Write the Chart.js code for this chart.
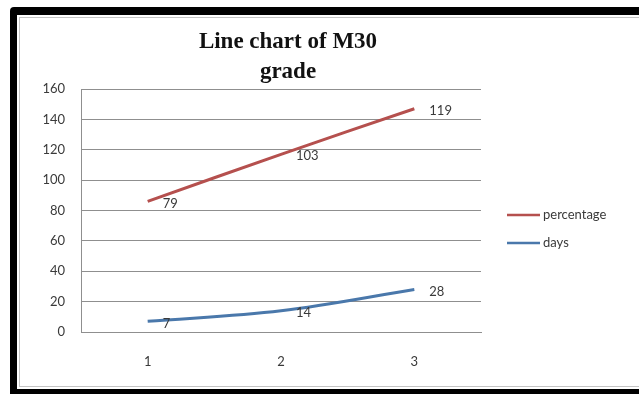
<!DOCTYPE html>
<html>
<head>
<meta charset="utf-8">
<script src="https://cdn.jsdelivr.net/npm/chart.js@4/dist/chart.umd.min.js"></script>
<style>
  html, body { margin: 0; padding: 0; background: #ffffff; overflow: hidden; }
  body { width: 639px; height: 394px; position: relative; }
  .frame { position: absolute; left: 10px; top: 7px; right: -30px; bottom: -20px; background: #000; border-radius: 4px; }
  .sheet { position: absolute; left: 17px; top: 15px; right: -30px; bottom: 5px; background: #fff; }
  .edge { position: absolute; left: 19px; top: 17px; right: -30px; bottom: 7px; border: 1px solid #c4c4c4; }
  canvas { position: absolute; left: 0; top: 0; }
</style>
</head>
<body>
<div class="frame"></div>
<div class="sheet"></div>
<div class="edge"></div>
<canvas id="chart" width="639" height="394"></canvas>
<script>
// Categories on the x axis
const categories = ['1', '2', '3'];
// Series values (stacked: percentage sits on top of days)
const daysValues = [7, 14, 28];
const percentageValues = [79, 103, 119];
// Value axis range
const yMin = 0;
const yMax = 160;
const yStep = 20;
// Chart title lines
const titleLines = ['Line chart of M30', 'grade'];
const seriesNames = ['days', 'percentage'];

const RED = '#b5504e';
const BLUE = '#4a78ab';
const TEXT = '#3a3a3a';
const GRID = '#8f8f8f';
const SANS = 'Lato, "Noto Sans", sans-serif';

// Value labels placed to the right of each point
const valueLabels = {
  id: 'valueLabels',
  afterDatasetsDraw(chart) {
    const ctx = chart.ctx;
    ctx.save();
    ctx.font = '13px ' + SANS;
    ctx.fillStyle = TEXT;
    ctx.textAlign = 'left';
    ctx.textBaseline = 'middle';
    chart.data.datasets.forEach((ds, i) => {
      chart.getDatasetMeta(i).data.forEach((pt, j) => {
        ctx.fillText(String(ds.data[j]), pt.x + 15, pt.y + 2);
      });
    });
    ctx.restore();
  }
};

// Title above the plot and legend to the right of it
const titleAndLegend = {
  id: 'titleAndLegend',
  afterDraw(chart) {
    const ctx = chart.ctx;
    ctx.save();
    ctx.fillStyle = '#111';
    ctx.font = 'bold 23px "Liberation Serif", "DejaVu Serif", serif';
    ctx.textAlign = 'center';
    ctx.textBaseline = 'alphabetic';
    ctx.fillText(titleLines[0], 288, 48);
    ctx.fillText(titleLines[1], 288, 78);

    // legend lists the top series first
    const order = chart.data.datasets.map((d, i) => i).reverse();
    ctx.font = '13px ' + SANS;
    ctx.textAlign = 'left';
    ctx.textBaseline = 'middle';
    order.forEach((idx, k) => {
      const ds = chart.data.datasets[idx];
      const y = 215 + k * 28;
      ctx.strokeStyle = ds.borderColor;
      ctx.lineWidth = 2.5;
      ctx.beginPath();
      ctx.moveTo(507, y);
      ctx.lineTo(540, y);
      ctx.stroke();
      ctx.fillStyle = TEXT;
      ctx.fillText(ds.label, 543, y);
    });
    ctx.restore();
  }
};

new Chart(document.getElementById('chart'), {
  type: 'line',
  data: {
    labels: categories,
    datasets: [
      {
        label: seriesNames[0],
        data: daysValues,
        borderColor: BLUE,
        backgroundColor: BLUE,
        borderWidth: 3,
        pointRadius: 0,
        tension: 0.35,
        fill: false
      },
      {
        label: seriesNames[1],
        data: percentageValues,
        borderColor: RED,
        backgroundColor: RED,
        borderWidth: 3,
        pointRadius: 0,
        tension: 0.35,
        fill: false
      }
    ]
  },
  options: {
    responsive: false,
    animation: false,
    layout: { padding: { left: 20, right: 158, top: 89, bottom: 22 } },
    plugins: {
      legend: { display: false },
      title: { display: false },
      tooltip: { enabled: false }
    },
    scales: {
      x: {
        offset: true,
        grid: { display: false, drawTicks: false },
        border: { display: true, color: GRID, width: 1 },
        ticks: { color: TEXT, font: { size: 13, family: SANS }, padding: 22 },
        afterFit(scale) { scale.height = 40; }
      },
      y: {
        stacked: true,
        min: yMin,
        max: yMax,
        grid: { color: GRID, lineWidth: 1, drawTicks: false },
        border: { display: true, color: GRID, width: 1 },
        ticks: { stepSize: yStep, color: TEXT, font: { size: 13, family: SANS }, padding: 16 },
        afterFit(scale) { scale.width = 61; }
      }
    }
  },
  plugins: [valueLabels, titleAndLegend]
});
</script>
</body>
</html>
